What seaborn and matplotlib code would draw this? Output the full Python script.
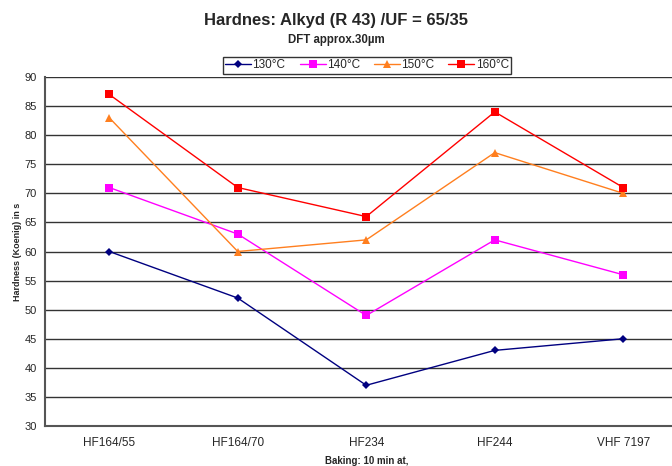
import numpy as np
import pandas as pd
import matplotlib.pyplot as plt
import seaborn as sns

# data
products = ['HF164/55', 'HF164/70', 'HF234', 'HF244', 'VHF 7197']
temps = ['130°C', '140°C', '150°C', '160°C']
h130 = [60, 52, 37, 43, 45]
h140 = [71, 63, 49, 62, 56]
h150 = [83, 60, 62, 77, 70]
h160 = [87, 71, 66, 84, 71]

df = pd.DataFrame({'product': products * 4,
                   'temp': np.repeat(temps, len(products)),
                   'hardness': h130 + h140 + h150 + h160})
df['x'] = df['product'].map({p: i for i, p in enumerate(products)})

sns.set_style('white')
plt.rcParams['font.family'] = ['Liberation Sans', 'DejaVu Sans']

colors = {'130°C': '#000080', '140°C': '#FF00FF', '150°C': '#FF7F1F', '160°C': '#FF0000'}
markers = {'130°C': 'D', '140°C': 's', '150°C': '^', '160°C': 's'}
msize = {'130°C': 4, '140°C': 6, '150°C': 6, '160°C': 6}

fig = plt.figure(figsize=(6.72, 4.66), dpi=100)
ax = fig.add_axes([45 / 672, 40 / 466, 642.5 / 672, 349 / 466])

for t in temps:
    sns.lineplot(data=df[df['temp'] == t], x='x', y='hardness', color=colors[t],
                 marker=markers[t], markersize=msize[t], markeredgewidth=0,
                 linewidth=1, label=t, ax=ax, zorder=3)

ax.set_xlim(-0.5, 4.5)
ax.set_ylim(30, 90)
ax.set_yticks(range(30, 91, 5))
ax.set_xticks(range(5))
ax.set_xticklabels(products, fontsize=8.5)
ax.set_xticks(np.arange(-0.5, 5, 1), minor=True)
ax.tick_params(axis='x', which='major', length=0, pad=8)
ax.tick_params(axis='x', which='minor', length=4, width=1, color='#333333', direction='out')
ax.tick_params(axis='y', labelsize=8, length=4, width=1, direction='out', color='#333333', pad=2)
ax.yaxis.grid(True, color='#333333', linewidth=1)
ax.set_axisbelow(True)
for s in ['top', 'right']:
    ax.spines[s].set_visible(False)
for s in ['left', 'bottom']:
    ax.spines[s].set_color('#555555')
    ax.spines[s].set_linewidth(1.5)

ax.set_ylabel('Hardness (Koenig) in s', fontsize=6.5, fontweight='bold', labelpad=2)
ax.set_xlabel('Baking: 10 min at,', fontsize=7, fontweight='bold', labelpad=5)

fig.text(0.5, 0.955, 'Hardnes: Alkyd (R 43) /UF = 65/35', ha='center', va='center',
         fontsize=12, fontweight='bold')
fig.text(0.5, 0.915, 'DFT approx.30µm', ha='center', va='center',
         fontsize=8.3, fontweight='bold')

leg = ax.legend(loc='center', bbox_to_anchor=(367 / 672, 1 - 65.5 / 466),
                bbox_transform=fig.transFigure, ncol=4, fontsize=8.5,
                frameon=True, fancybox=False, edgecolor='black',
                handlelength=2.2, handletextpad=0.1, columnspacing=1.2,
                borderpad=0.2, markerscale=0.9)
leg.get_frame().set_linewidth(1)

fig.savefig('out.png', dpi=100)
